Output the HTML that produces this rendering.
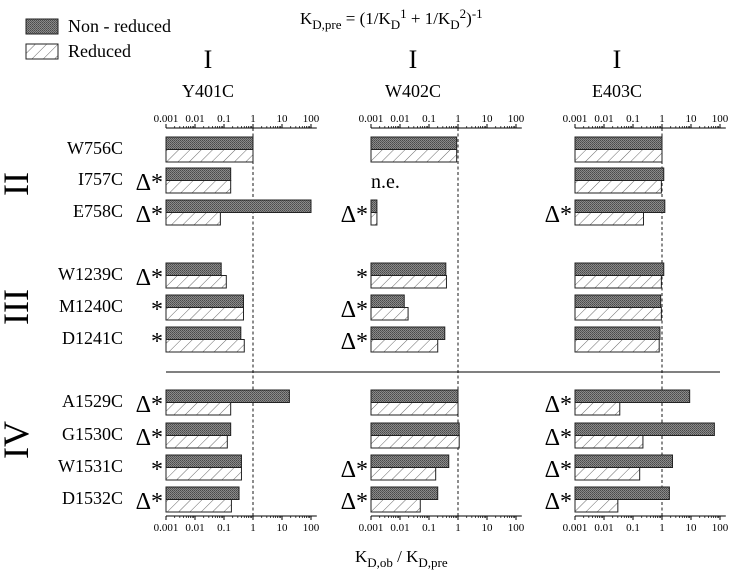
<!DOCTYPE html>
<html><head><meta charset="utf-8"><style>
body{margin:0;background:#fff}
svg{display:block;font-family:"Liberation Serif",serif}
</style></head><body>
<svg id="c" width="729" height="573" viewBox="0 0 729 573">
<defs>
<pattern id="dots" width="2" height="2" patternUnits="userSpaceOnUse"><rect width="2" height="2" fill="#8a8a8a"/><rect width="1" height="1" fill="#4a4a4a"/><rect x="1" y="1" width="1" height="1" fill="#5a5a5a"/></pattern>
<pattern id="hatch" width="8" height="8" patternUnits="userSpaceOnUse" patternTransform="rotate(45)"><rect width="8" height="8" fill="#fff"/><line x1="0" y1="0" x2="0" y2="8" stroke="#444" stroke-width="0.8"/></pattern>
</defs>
</svg>
<script>
const rows=["W756C","I757C","E758C","W1239C","M1240C","D1241C","A1529C","G1530C","W1531C","D1532C"];
const panels=["Y401C","W402C","E403C"];
const nonReduced=[
[1,0.17,100,0.08,0.47,0.38,18,0.17,0.4,0.33],
[0.9,null,0.0016,0.38,0.014,0.35,1,1.1,0.48,0.2],
[1,1.15,1.25,1.15,0.9,0.85,9,64,2.3,1.8]];
const reduced=[
[1,0.17,0.075,0.12,0.47,0.5,0.17,0.13,0.4,0.18],
[0.9,null,0.0016,0.4,0.019,0.2,1,1.1,0.17,0.05],
[1,0.95,0.23,0.95,0.95,0.8,0.035,0.22,0.17,0.03]];
const marks=[
["","Δ*","Δ*","Δ*","*","*","Δ*","Δ*","*","Δ*"],
["","n.e.","Δ*","*","Δ*","Δ*","","","Δ*","Δ*"],
["","","Δ*","","","","Δ*","Δ*","Δ*","Δ*"]];
const ticks=[0.001,0.01,0.1,1,10,100];
const tickLabels=["0.001","0.01","0.1","1","10","100"];

const NS="http://www.w3.org/2000/svg",svg=document.getElementById('c');
function el(t,a,p){const e=document.createElementNS(NS,t);for(const k in a)e.setAttribute(k,a[k]);(p||svg).appendChild(e);return e;}
const panelX0=[166,371,575],DEC=29,rowTop=[137,168,200,263,295,327,390,423,455,487],BH=12.5;
function xs(p,v){return panelX0[p]+(Math.log10(v)+3)*DEC;}

let t;
let r=el('rect',{x:26,y:19,width:32,height:15,fill:'url(#dots)',stroke:'#222'});

t=el('text',{x:68,y:32,'font-size':18});t.textContent="Non - reduced";

r=el('rect',{x:26,y:44,width:32,height:15,fill:'url(#hatch)',stroke:'#222'});

t=el('text',{x:68,y:57,'font-size':18});t.textContent="Reduced";

t=el('text',{x:300,y:24,'font-size':17});
t.innerHTML='K<tspan dy="5" font-size="13">D,pre</tspan><tspan dy="-5"> = (1/K</tspan><tspan dy="5" font-size="13">D</tspan><tspan dy="-11" font-size="13">1</tspan><tspan dy="6"> + 1/K</tspan><tspan dy="5" font-size="13">D</tspan><tspan dy="-11" font-size="13">2</tspan><tspan dy="6">)</tspan><tspan dy="-6" font-size="13">-1</tspan>';

t=el('text',{x:355,y:562,'font-size':17});
t.innerHTML='K<tspan dy="5" font-size="13">D,ob</tspan><tspan dy="-5"> / K</tspan><tspan dy="5" font-size="13">D,pre</tspan>';

rows.forEach((n,i)=>{t=el('text',{x:123,y:rowTop[i]+17,'font-size':18,'text-anchor':'end'});t.textContent=n;
});
[["II",184],["III",307],["IV",440]].forEach(g=>{t=el('text',{x:0,y:0,'font-size':36,'text-anchor':'middle',transform:`translate(28,${g[1]}) rotate(-90)`});t.textContent=g[0];
});
let ln=el('line',{x1:166,y1:372,x2:720,y2:372,stroke:'#000'});


panels.forEach((pn,p)=>{
  const cx=xs(p,1)-45;
  t=el('text',{x:cx,y:68,'font-size':26,'text-anchor':'middle'});t.textContent="I";
  
  t=el('text',{x:cx,y:97,'font-size':18,'text-anchor':'middle'});t.textContent=pn;
  
  [[128,122,-1],[516,531,1]].forEach((ax,ai)=>{
    const g=el('g',{});
    
    el('line',{x1:xs(p,0.001),y1:ax[0],x2:xs(p,0.001)+5.2*DEC,y2:ax[0],stroke:'#000'},g);
    ticks.forEach((v,k)=>{
      el('line',{x1:xs(p,v),y1:ax[0],x2:xs(p,v),y2:ax[0]+ax[2]*4,stroke:'#000'},g);
      if(k<5)for(let m=2;m<10;m++){const xx=xs(p,v*m);el('line',{x1:xx,y1:ax[0],x2:xx,y2:ax[0]+ax[2]*2,stroke:'#000','stroke-width':0.7},g);}
      const tl=el('text',{x:xs(p,v),y:ax[1],'font-size':11,'text-anchor':'middle'},g);tl.textContent=tickLabels[k];
    });
  });
  ln=el('line',{x1:xs(p,1),y1:128,x2:xs(p,1),y2:516,stroke:'#000','stroke-dasharray':'3,2.5','stroke-width':0.9});
  
  rows.forEach((n,i)=>{
    const x0=xs(p,0.001);
    if(nonReduced[p][i]!=null){
      const b=el('rect',{x:x0,y:rowTop[i],width:xs(p,nonReduced[p][i])-x0,height:BH,fill:'url(#dots)',stroke:'#222'});
      
    }
    if(reduced[p][i]!=null){
      const b=el('rect',{x:x0,y:rowTop[i]+BH,width:xs(p,reduced[p][i])-x0,height:BH,fill:'url(#hatch)',stroke:'#222'});
      
    }
    const mk=marks[p][i];
    if(mk==="n.e."){t=el('text',{x:x0,y:rowTop[i]+20,'font-size':20});t.textContent=mk;
      }
    else if(mk){t=el('text',{x:x0-3,y:rowTop[i]+22,'font-size':24,'text-anchor':'end'});t.textContent=mk;
      }
  });
});
</script>
</body></html>
